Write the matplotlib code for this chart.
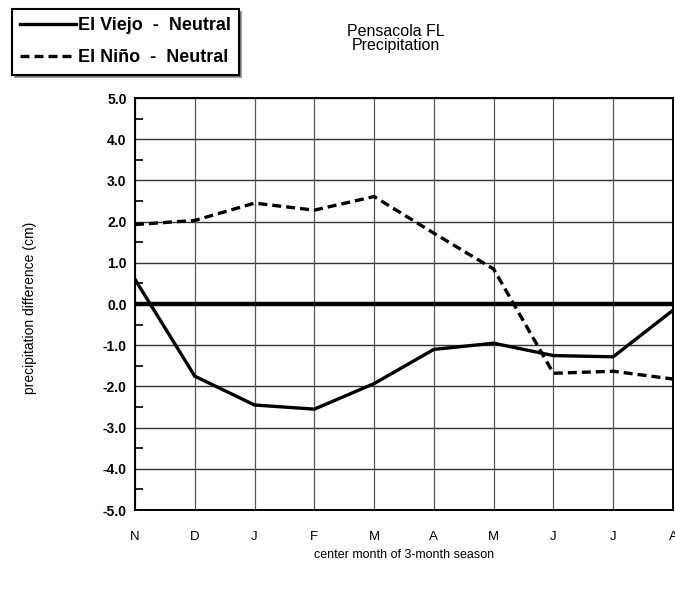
import matplotlib.pyplot as plt

plt.rcParams['font.family'] = ['Liberation Sans', 'DejaVu Sans']

# centre month of each 3-month season
months = ['N', 'D', 'J', 'F', 'M', 'A', 'M', 'J', 'J', 'A']
# precipitation difference from neutral years (cm)
viejo = [0.6, -1.75, -2.45, -2.55, -1.93, -1.1, -0.95, -1.25, -1.28, -0.15]
nino = [1.93, 2.03, 2.45, 2.28, 2.61, 1.72, 0.85, -1.68, -1.63, -1.82]
y_ticks = [5, 4, 3, 2, 1, 0, -1, -2, -3, -4, -5]

x = list(range(len(months)))

fig = plt.figure(figsize=(6.75, 5.89), dpi=100)
ax = fig.add_axes([0.2, 0.134, 0.797, 0.6995])

ax.set_xlim(0, len(months) - 1)
ax.set_ylim(-5, 5)

# grid
for yv in y_ticks:
    ax.axhline(yv, color='#333333', lw=1.0, zorder=1)
for xv in x:
    ax.axvline(xv, color='#555555', lw=0.9, zorder=1)
ax.axhline(0, color='black', lw=3.2, zorder=2)

l1, = ax.plot(x, viejo, color='black', lw=2.4, solid_joinstyle='miter', zorder=3)
l2, = ax.plot(x, nino, color='black', lw=2.4, ls=(0, (2.7, 1.5)), zorder=3)

ax.set_xticks(x)
ax.set_xticklabels(months, fontsize=9.5)
ax.set_yticks(y_ticks)
ax.set_yticklabels(['%.1f' % v for v in y_ticks], fontsize=10, fontweight='bold')
ax.set_yticks([v + 0.5 for v in range(-5, 5)], minor=True)
ax.tick_params(axis='x', length=0, pad=15)
ax.tick_params(axis='y', which='major', length=0, pad=6)
ax.tick_params(axis='y', which='minor', direction='in', length=6, width=1.2)
for s in ax.spines.values():
    s.set_linewidth(1.4)

ax.set_ylabel('precipitation difference (cm)', fontsize=10)
ax.yaxis.set_label_coords(-0.183, 0.49)
ax.set_xlabel('center month of 3-month season', fontsize=9)
ax.xaxis.set_label_coords(0.5, -0.095)

fig.text(0.586, 0.935, 'Pensacola FL\nPrecipitation', ha='center', va='center',
         fontsize=11.5, linespacing=0.9)

leg = fig.legend([l1, l2], ['El Viejo  -  Neutral', 'El Niño  -  Neutral'],
                 loc='upper left', bbox_to_anchor=(0.004, 1.0),
                 frameon=True, fancybox=False, shadow=True, handlelength=3.1,
                 handletextpad=0.1, borderpad=0.45, labelspacing=0.85,
                 prop={'size': 13, 'weight': 'bold'})
leg.get_frame().set_edgecolor('black')
leg.get_frame().set_linewidth(1.5)

fig.savefig('out.png', dpi=100)
